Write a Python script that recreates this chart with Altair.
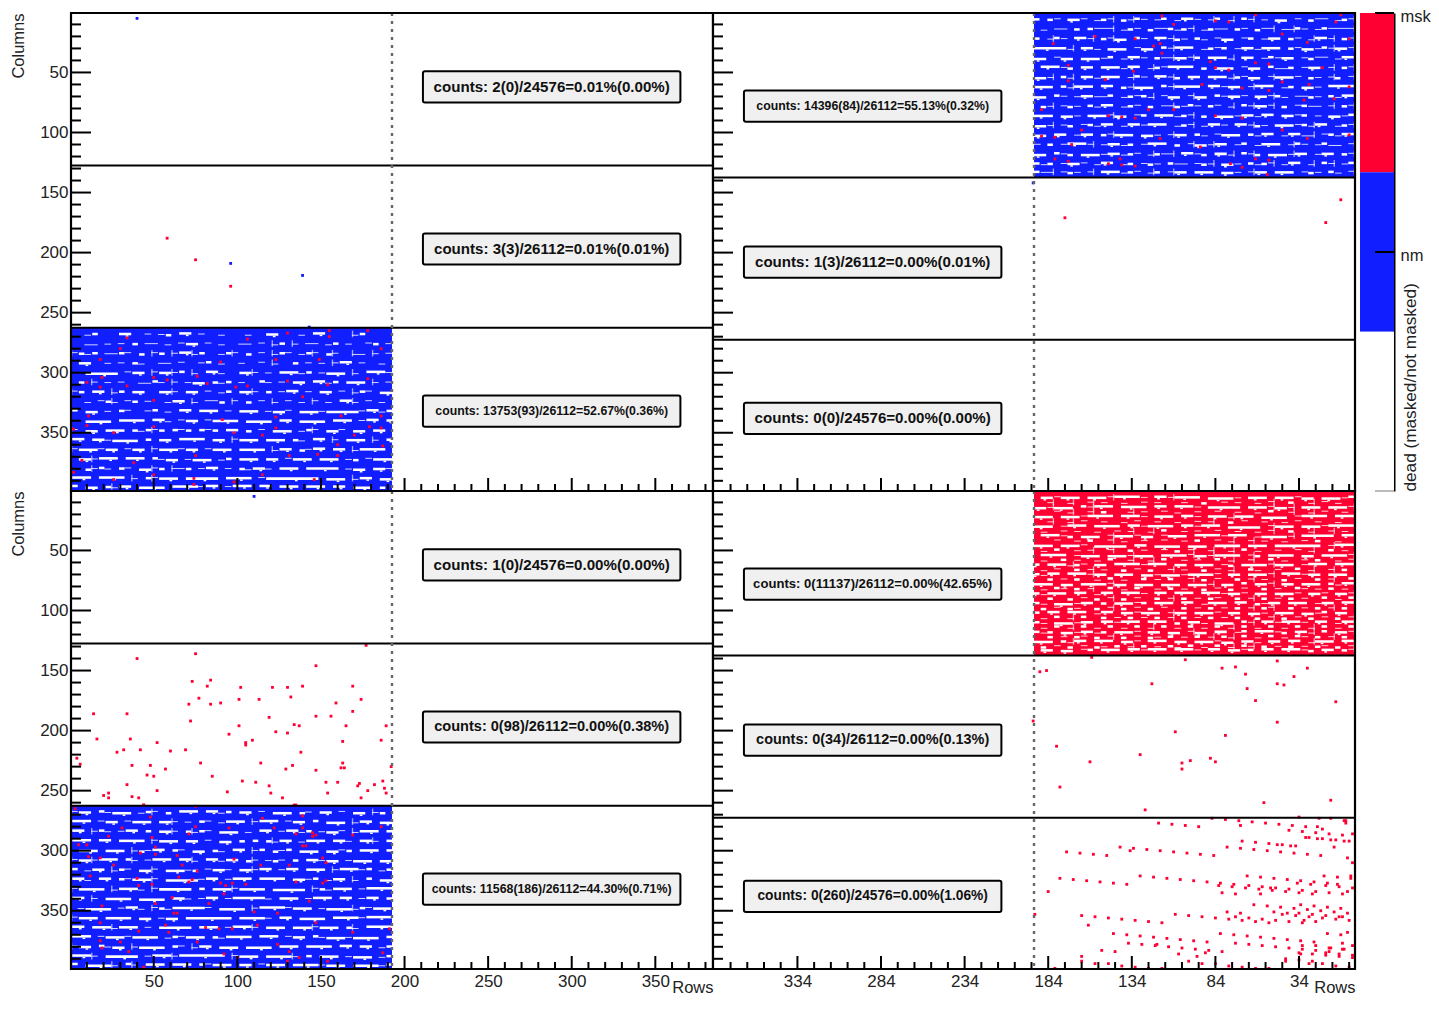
import altair as alt
import pandas as pd

RED = "#ff0033"
BLUE = "#111eff"
FONT = "Liberation Sans"

X_MAJOR_LEFT = [50, 100, 150, 200, 250, 300, 350]
X_MAJOR_RIGHT = [334, 284, 234, 184, 134, 84, 34]
X_MINOR_LEFT = [v for v in range(10, 390, 10) if v not in X_MAJOR_LEFT]
X_MINOR_RIGHT = [v for v in range(4, 384, 10) if v not in X_MAJOR_RIGHT]
Y_MAJOR = [50, 100, 150, 200, 250, 300, 350]
Y_MINOR = [v for v in range(10, 400, 10) if v not in Y_MAJOR]

LINES_LEFT = [127.5, 262.5]
LINES_RIGHT = [137.5, 272.5]
DIVIDER = [192.5]

# (label, centre row, font size)
LABELS_TL = [("counts: 2(0)/24576=0.01%(0.00%)", 62, 15.1),
             ("counts: 3(3)/26112=0.01%(0.01%)", 197, 15.1),
             ("counts: 13753(93)/26112=52.67%(0.36%)", 332, 12.3)]
LABELS_TR = [("counts: 14396(84)/26112=55.13%(0.32%)", 78, 12.3),
             ("counts: 1(3)/26112=0.00%(0.01%)", 208, 15.1),
             ("counts: 0(0)/24576=0.00%(0.00%)", 338, 15.1)]
LABELS_BL = [("counts: 1(0)/24576=0.00%(0.00%)", 62, 15.1),
             ("counts: 0(98)/26112=0.00%(0.38%)", 197, 14.55),
             ("counts: 11568(186)/26112=44.30%(0.71%)", 332, 12.35)]
LABELS_BR = [("counts: 0(11137)/26112=0.00%(42.65%)", 78, 13.1),
             ("counts: 0(34)/26112=0.00%(0.13%)", 208, 14.45),
             ("counts: 0(260)/24576=0.00%(1.06%)", 338, 13.75)]

# Rows of white holes in the dense blocks; one character spans four rows-axis units
GAPS_TL = [
 "..-#...##..-.-#.##.-..-...-..##...-.##....-#....",
 "..--.-.-.#.--.-.-##.-.-..--.-.-#.-.--.-#.-..-#.-",
 "-#-#.--#-.#.-#.-##-#..-#-.#.-.-#-.-#-.#-..--.-.-",
 ".##..-.-.#-..--.-..-#.-..-..-.-..#.-.-.-##.-..-.",
 "..#####.-##.-##-#.-.##-..##-.-.###-#.-###.-.###-#",
 ".#.-.-.-..--#-.-.-##.#-#.-..#-.-.##.##-#.###.-.-.",
 "-#.##.-#.##..##-.##.-.-#.##-.#.-##.-.##.-.-#-.##.",
 "..-.-#-.-#.-..-##.-.--#.-.#.-.-.-.-.-.-.##-.-.-.-",
 "#.##.-.#-..-#.-.##.###.-.###.-##-.###-#####-##-#-",
 "..####.####.##-.-##.-####.####.##.####.###.-##.##",
 "-.##.###.#-#-#.#-#.#-#.##.#.-.###.-#-.##-.##.##.#",
 "##.##-####.#.##.####.##.-###.###.#-.##.-.###.-.##",
 "-###-##.-##.-###-##.-###.####.-##.#-##.##.-####.#",
 ".##-###.###.#-##.-###.-#.###.##.-###.###.-#.-###-",
 "..#-#-.#-.##-#.--#.-##.-.#-##-.###.#####.-##.##-#",
 "###.####.-.#-###.#####.####.-########.###.-##.###",
 "#.##.#-##.####.####-##.-###.##.###.###.##.###.#.#",
]
GAPS_TR = [
 "-#-.--#.-.##.-.-#.-.#-.-##-.#-.-#-#.-#-.-##.-#.#",
 "----#-.-#--.--#.-#.--#-.-#-#--#.-#-.---#.#.--.-.",
 "-#.-##-.-#.##-.#-.##-.-#.-#-##.-#.##-#.-##.-#-.#",
 "-##-#-##-#.###-##-.#-#-.###-#.##-.###.-##.-#####",
 "##-.--#-.##-#-.##.-###.#-##--#.-##-.#-###.##-.##",
 "-#.-.##-.#--#.##-.###.#.####-#-.##-###.##.#-###.",
 "-.#-.-#.-###-.##-#-###.##.#-##.-#-.###-##.-#.-##",
 "####.-##.#-.###-.##-##.####-#.###-#.##.###-#.###",
 "##-#.-#--.-#-##.-##-#.##-.##-.-#-#-.#--##-.-#.##",
 "-#.-.--#-.#.-##-#.-.-#.-#-#--.#.-#-.##-#.-#-.-#.",
 "#-##.-.#-##.##-##-###.#.-#-###.#-.##-###.-##.###",
 "-#-.##-#-###.-#-##.-##-.-#-.###-##-.##-#-.#-.-##",
 "##-#-.--##-.##-#.###-.-#.##-.-##.###-#.##-.##.##",
 "-.--#-.-#-.###-.#-.##-##-.#.###-.#-##-.-###-.#.-",
 "-#.##-.##-###.#-#.-##.#-##.--#-.-#-##-###.#-#.##",
 "#-.-#.-.##-.-#-#.-##.-#-.--#.-#-.#-.##-.-##-.#-#",
 "-.-#.-#-.###.##-.-##.###.##-.#-.-#-###.-.-#-.--#",
]
GAPS_BL = [
 "-##.#-###.-#-.#.###.##-#.##.-.###.#-.##.-.##.-#.",
 "###.-##.-###.##-.-.#-.-###.-###.-##.#.###.-##.##",
 "##.-#-.-##.#.##-.#-#-.###.-.##.-##-#.-##-.-###.#",
 "###.##.####.-###.##.-.##.#.#.#-##.-###.##-.##-.#",
 ".###.###.-#-##.#-.##.#-.##.-#.#-#.###.##-#.###.#",
 "-##-###.#-.-###.##-.##-##.#-.-#-.#.##-##.-###.##",
 "#.-##.-#-.##-.###-#.-##-.##-##.-##.###.-###-#.-#",
 "##-.##.#-###-.#####-##.-###.####.##-#.-##.-.#.##",
 "-####.-###-.-#####.#.###-####.#####.-#-###.-####",
 "##.-.####.####.##-.-##.-#####-.###.-###.##.-##.#",
 ".-####.-##-.-#-#####-.####.-####-###.-####-#-###",
 "-###.####.##.-##.#######.####-.##.####.####-####",
 "##.###-###.-.#####.###.-###-.###.###-###.#-.####",
 "###.-###-####.-#-###.#-####.###.-##.#-###-####.#",
 "-##.#-##.-####.#-.-##.###.####.###.####.##.##.-#",
 "###-.#####.-###-#######.-###.####-.#.###.-###.-#",
 "#.####-.#-.###.###.#-###.##.-###.####-###.####-#",
]
GAPS_BR = [
 "#-###.##-###.###.-####.####-##.-####-###.###-##.#",
 "-###.###.-##-###.#####.-###.##.####.###-#.###-###",
 "###.####-.####.###-###.-##.###.-###.####-###.####",
 "####-###.###-.#####.###-##.####-##.####.###-.####",
 "##.#####.-####-.###-####.###-.##-###-.###.#-###.#",
 "###-.#######.###.####.###.####.##.#####.-###.###",
 "-####.##.####.#-.####-##-####.###-###.###-.####.#",
 "###.###-.###-####.#-.###.##.###-####.##.-#-###.##",
 ".###.##-###.-###.##.-####-###-##.###.##-###.##-##",
 "##-#.###.##.-##.#.##.-###.###.###.##-####.##.###",
 "-##.-##.-###.##.-##-###.###.##.-###.##-.##.###-##",
 "##.##-.###.##-#.##.###-.##.###.#-###.#.##-###.-#",
 ".##.#-##.###.-##.##.-###.##-.###-##.##-.###.##.#",
 "##-.##.-###-##.-#.###.-##.#.###.###-##.##-###.-#",
 "-##.#.-##.#-###.#-.##.##-.##.##.-###.#-##-##.#-#",
 "##.###-.##.##.-##.##-###.##.###.-##.###.##-#.###",
 "-#.##.#-###.##.#-##.##.-###.###-##.###.#-.##.##.",
]
# Extra pinholes between the main hole rows of the red block
GAPS_BR_EXTRA = [
 "..-.-.-..#..-.-..-.-..#..-...-.-..-..-.-..-..-.",
 ".-..-.-..-..#.-..-..-..-..-.-..-.-...#.-..-.-..",
 "..-..-..-.-..-..-.#..-.-..-..-..-.-..-..-.-..-.",
 ".-.-..-..#..-.-..-..-..-.-..#.-..-.-..-..-.-..-",
 "..-..#.-..-..-.-..-.-..#.-..-..-..-.-..#.-..-..",
 ".-.#..-.-..-..-.#.-..-..-.#.-..-.#..-..-.-..#.-",
 "-.-..#.-..-.#..-..-.#..-.-..#.-..-..#.-..-.#..-",
 ".#.-..-.#..-..-#..-.-.#..-.-..#.-.#..-.-.#..-.-",
 "#..-.#..-.#..-.-.#..-.#.-..#.-.#..-.#.-..#.-.#.",
 ".-.#.-.-#..-.#..-.#.-.#..-.#.-..#.-.#..-.#.-#.-",
 "#.-.#..-.#.-.#.-.#..-#.-.#.-.#..-.#.-.#.-.#..#.",
 ".#.-.#.-.#..-#.-.#.-.#.-.#..-.#.-.#.-.#..-#.-.#",
 "-.#.-.#.-.#.-.#..#.-.#.-.#.-.#.-.#.-.#..#.-.#.-",
 "#.-.#.-.#.-.#.-.#.-.#.-.#.-.#.-.#.-.#.-.#.-.#.-",
 ".#.-.#.-#.-.#.-.#.-#.-.#.-.#.-#.-.#.-.#.-#.-.#.",
 "-.#.-#.-.#.-.#.-#.-.#.-.#.-#.-.#.-.#.-#.-.#.-.#",
]
HOLE_ROWS_LOW = [268, 276, 284, 292, 300, 308, 316, 324, 332, 340, 348, 356, 364, 372, 380, 388, 395]
HOLE_ROWS_TOP = [6, 14, 22, 30, 38, 46, 54, 62, 70, 78, 86, 94, 102, 110, 118, 126, 133]
HOLE_ROWS_EXTRA = [10, 18, 26, 34, 42, 50, 58, 66, 74, 82, 90, 98, 106, 114, 122, 130]

# (rows-axis value, columns-axis value)
BLUE_TL = [(40, 5), (143, 262)]
RED_TL_MID = [(58, 188), (75, 206), (96, 228)]
BLUE_TL_MID = [(96, 209), (139, 219)]
RED_TL_LOW = [(34,271),(106,272),(130,267),(155,265),(155,270),(178,265),(30,280),(186,280),(18,289),(90,291),
 (123,289),(149,289),(76,303),(19,304),(50,304),(58,306),(82,309),(130,307),(178,305),(154,310),(10,308),(18,312),
 (34,311),(99,312),(106,311),(139,320),(50,323),(11,336),(91,339),(123,337),(162,336),(186,336),(10,344),(50,345),
 (26,350),(123,346),(179,345),(186,346),(2,347),(98,350),(115,352),(170,352),(160,360),(187,361),(75,369),(131,369),
 (148,368),(160,369),(7,373),(38,375),(2,383),(26,389),(50,385),(74,388),(115,385),(146,389),(98,391),(74,393)]
RED_TR_TOP = [(116,3),(60,2),(9,2),(84,7),(76,8),(109,10),(12,8),(156,20),(132,22),(44,18),(4,22),(29,25),(181,26),
 (117,26),(121,28),(116,34),(87,41),(172,44),(84,46),(20,46),(76,48),(133,49),(60,42),(52,43),(172,57),(150,56),
 (44,58),(92,60),(68,63),(52,65),(4,62),(28,60),(31,73),(13,72),(188,81),(124,81),(109,81),(148,86),(140,87),(84,86),
 (68,88),(132,88),(164,98),(44,98),(188,103),(117,105),(180,104),(29,105),(4,102),(170,110),(93,112),(60,122),(52,123),
 (172,124),(148,126),(140,127),(132,128),(75,126),(68,129),(141,122),(180,122),(53,135)]
RED_TR_MID = [(174, 171), (18, 175), (9, 156)]
BLUE_TR_MID = [(193, 142)]
BLUE_BL = [(110, 5)]
RED_BL_MID = [(177,129),(75,136),(40,140),(147,146),(84,158),(73,159),(82,163),(102,164),(121,164),(130,164),(139,163),
 (169,163),(132,172),(77,173),(101,174),(113,174),(174,174),(90,177),(84,178),(71,178),(159,177),(169,184),(14,186),
 (34,186),(147,188),(156,188),(119,189),(72,192),(134,195),(137,196),(101,196),(165,196),(189,196),(123,201),(130,202),
 (95,203),(16,207),(36,207),(109,208),(186,208),(163,209),(105,210),(52,210),(105,212),(32,216),(42,216),(60,217),
 (69,216),(28,218),(138,218),(4,223),(78,227),(114,227),(163,227),(6,228),(37,229),(48,229),(133,229),(192,230),
 (162,231),(164,231),(57,232),(129,232),(147,233),(46,237),(50,238),(85,238),(103,242),(111,243),(153,243),(160,243),
 (187,242),(173,244),(34,245),(119,246),(172,246),(182,245),(188,248),(52,250),(94,251),(178,250),(23,252),(120,252),
 (154,252),(189,252),(20,254),(37,255),(23,256),(41,256),(127,256),(174,256),(44,262),(135,262)]
RED_BL_LOW = [(3,265),(44,262),(75,263),(134,262),(115,273),(48,272),(139,271),(31,281),(75,280),(95,281),(139,281),
 (186,280),(23,288),(49,289),(71,286),(122,281),(135,286),(145,285),(145,288),(147,287),(169,287),(139,296),(141,296),
 (51,297),(42,302),(5,295),(10,295),(11,305),(18,306),(51,303),(64,304),(98,307),(151,306),(153,310),(26,312),(67,312),
 (76,317),(114,312),(131,312),(40,323),(73,324),(65,322),(12,321),(71,326),(135,326),(151,327),(153,325),(90,327),
 (97,327),(105,328),(93,329),(41,329),(49,328),(92,336),(61,339),(143,342),(51,344),(110,351),(124,352),(62,352),
 (64,352),(83,344),(19,346),(112,362),(97,365),(89,365),(81,364),(57,362),(18,360),(147,360),(191,365),(41,367),
 (59,368),(169,368),(30,376),(76,376),(18,375),(19,381),(35,384),(124,378),(187,385),(131,384),(100,389),(92,386),
 (137,389),(44,397),(154,392),(130,392)]
RED_BR_MID = [(158,139),(102,141),(47,142),(185,150),(189,151),(80,148),(72,147),(29,148),(66,153),(37,155),(122,161),
 (47,161),(43,162),(65,165),(60,175),(12,176),(193,192),(47,193),(108,201),(78,204),(179,213),(129,220),(87,223),
 (99,225),(159,226),(104,227),(84,226),(104,232),(177,247),(55,260),(15,258),(126,266)]
RED_BR_LOW = [(86,273),(78,274),(70,275),(34,272),(22,273),(15,273),(6,275),(7,275),(6,277),(118,277),(110,278),(102,279),
 (94,280),(69,279),(62,276),(54,277),(46,278),(38,279),(40,283),(30,280),(32,284),(23,280),(24,285),(20,282),(16,286),
 (2,286),(8,287),(30,289),(28,289),(23,290),(20,290),(15,291),(12,291),(7,292),(4,292),(68,292),(60,293),(52,294),
 (47,295),(44,295),(39,296),(36,296),(13,297),(77,297),(69,298),(61,299),(53,300),(45,301),(37,302),(29,303),(21,304),
 (5,306),(2,310),(141,297),(133,298),(135,300),(125,299),(117,300),(109,301),(101,302),(93,303),(85,304),(173,301),
 (165,302),(157,303),(149,304),(129,321),(121,322),(113,323),(105,324),(97,325),(89,326),(177,323),(169,324),(161,325),
 (153,326),(145,327),(137,328),(81,327),(82,329),(73,328),(74,330),(65,321),(57,322),(49,323),(41,324),(33,325),(35,327),
 (19,321),(11,322),(3,321),(3,323),(25,326),(27,328),(17,327),(18,329),(11,328),(10,330),(2,331),(64,329),(66,331),
 (56,330),(58,332),(48,331),(51,331),(50,333),(40,332),(42,334),(32,333),(34,335),(24,334),(26,336),(16,335),(8,336),
 (5,334),(57,336),(80,335),(72,336),(184,334),(61,345),(53,346),(45,347),(37,348),(33,345),(25,346),(17,347),(9,348),
 (77,351),(69,352),(49,351),(41,352),(44,353),(36,354),(29,349),(34,352),(21,350),(13,351),(5,352),(26,353),(18,354),
 (10,355),(8,355),(192,353),(164,354),(156,355),(148,356),(140,357),(132,358),(124,359),(116,360),(108,353),(100,354),
 (92,355),(84,356),(76,357),(72,355),(68,358),(64,356),(60,359),(56,357),(52,360),(48,358),(40,359),(31,358),(32,360),
 (28,355),(24,359),(20,356),(12,357),(4,358),(160,362),(145,369),(137,370),(129,371),(121,372),(113,373),(105,374),
 (97,375),(89,376),(81,369),(73,370),(65,371),(57,372),(49,373),(41,374),(33,375),(25,376),(17,369),(9,370),(5,368),
 (136,377),(128,378),(120,379),(119,378),(112,380),(104,381),(96,382),(88,383),(80,384),(72,377),(64,378),(56,379),
 (48,380),(40,381),(32,379),(32,382),(24,379),(24,383),(16,381),(15,381),(8,377),(8,382),(7,382),(2,379),(152,383),
 (144,384),(106,386),(95,388),(90,385),(34,385),(33,386),(26,386),(18,385),(18,387),(16,384),(10,386),(10,388),(2,387),
 (2,389),(42,390),(42,392),(34,391),(164,388),(164,392),(156,394),(148,394),(140,396),(132,397),(124,398),(100,392),
 (92,394),(84,394),(76,396),(68,397),(60,398),(52,398),(28,394),(26,392),(20,394),(12,396),(4,397),(116,398),(180,398)]

W, H = 642, 478
COL_MIN, COL_MAX, ROW_MIN, ROW_MAX = 0.5, 384.5, 0.5, 398.5
BLOCK_END = 192.5
WOBBLE = [-0.7, 0.2, 0.8, -0.2]


def hole_rects(masks, rows, block_top):
    """Turn the typed masks into white rectangles, stepping runs up and down a little,
    with thin vertical spurs at the thin runs, as the dotted hit pattern shows."""
    out = []
    for mask, row in zip(masks, rows):
        i = 0
        while i < len(mask):
            j = i
            while j < len(mask) and mask[j] == mask[i]:
                j += 1
            if mask[i] in "#-":
                solid = mask[i] == "#"
                half = 1.05 if solid else 0.42
                off = WOBBLE[i % 4]
                x0 = 0.5 + 4 * i + (0.7 if solid else 0.0)
                x1 = min(0.5 + 4 * j, BLOCK_END)
                out.append({"x": x0, "x2": x1, "y": row + off - half, "y2": row + off + half,
                            "o": 1.0 if solid else 0.8})
                if not solid and i % 3 == 0:
                    out.append({"x": x0, "x2": x0 + 0.8, "y": max(row - 3, block_top), "y2": row + 2.5, "o": 0.6})
                if solid and j - i > 1:
                    mid = x0 + (x1 - x0) * 0.55
                    out.append({"x": mid, "x2": mid + 1.6, "y": row + off + half, "y2": row + off + half + 1.2, "o": 1.0})
            i = j
    return pd.DataFrame(out)


def pts(pairs):
    return pd.DataFrame(pairs, columns=["x", "y"])


def panel(right, bottom, lines, labels, block=None, block_color=BLUE, holes=None,
          reds=(), blues=(), show_y=True):
    xs = alt.Scale(domain=[COL_MIN, COL_MAX], nice=False, zero=False, reverse=right)
    ys = alt.Scale(domain=[ROW_MIN, ROW_MAX], nice=False, zero=False, reverse=True)
    x_axis = None
    if bottom:
        x_axis = alt.Axis(values=X_MAJOR_RIGHT if right else X_MAJOR_LEFT, grid=False, domain=False, ticks=False,
                          labelFont=FONT, labelFontSize=17, labelColor="#222", labelPadding=4,
                          labelOverlap=False, labelFlush=False, format="d",
                          title="Rows", titleFont=FONT, titleFontSize=16.5, titleFontWeight="normal",
                          titleColor="#222", titleX=W, titleY=23, titleAlign="right",
                          titleBaseline="alphabetic")
    y_axis = None
    if show_y:
        y_axis = alt.Axis(values=Y_MAJOR, grid=False, domain=False, ticks=False, labelFont=FONT,
                          labelFontSize=17, labelColor="#222", labelPadding=3, labelOverlap=False,
                          labelFlush=False, format="d", title="Columns", titleFont=FONT,
                          titleFontSize=16.5, titleFontWeight="normal", titleColor="#222",
                          titleX=-53, titleY=0, titleAlign="right", titleBaseline="middle", titleAngle=270)
    X = alt.X("x:Q", scale=xs, axis=x_axis)
    Y = alt.Y("y:Q", scale=ys, axis=y_axis)
    layers = []

    frame = pd.DataFrame([{"x": COL_MIN, "x2": COL_MAX, "y": ROW_MIN, "y2": ROW_MAX}])
    layers.append(alt.Chart(frame).mark_rect(fill="white", stroke=None).encode(x=X, x2="x2:Q", y=Y, y2="y2:Q"))

    if block is not None:
        df = pd.DataFrame([{"x": COL_MIN, "x2": BLOCK_END, "y": block[0], "y2": block[1]}])
        layers.append(alt.Chart(df).mark_rect(fill=block_color).encode(x=X, x2="x2:Q", y=Y, y2="y2:Q"))
    if holes is not None:
        layers.append(alt.Chart(holes).mark_rect(fill="white").encode(
            x=X, x2="x2:Q", y=Y, y2="y2:Q", opacity=alt.Opacity("o:Q", scale=None)))
    if len(reds):
        layers.append(alt.Chart(pts(reds)).mark_square(size=8, color=RED, opacity=1).encode(x=X, y=Y))
    if len(blues):
        layers.append(alt.Chart(pts(blues)).mark_square(size=8, color=BLUE, opacity=1).encode(x=X, y=Y))

    layers.append(alt.Chart(pd.DataFrame({"y": lines})).mark_rule(color="black", strokeWidth=2).encode(y=Y))
    layers.append(alt.Chart(pd.DataFrame({"x": DIVIDER})).mark_rule(color="#666666", strokeWidth=2.4, strokeDash=[3, 5]).encode(x=X))

    for vals, length in ((Y_MAJOR, 20), (Y_MINOR, 10)):
        layers.append(alt.Chart(pd.DataFrame({"y": vals})).mark_rule(color="black", strokeWidth=2).encode(
            y=Y, x=alt.value(0), x2=alt.value(length)))
    major = X_MAJOR_RIGHT if right else X_MAJOR_LEFT
    minor = X_MINOR_RIGHT if right else X_MINOR_LEFT
    for vals, length in ((major, 13), (minor, 7)):
        layers.append(alt.Chart(pd.DataFrame({"x": vals})).mark_rule(color="black", strokeWidth=2).encode(
            x=X, y=alt.value(H), y2=alt.value(H - length)))

    cols = (212, 366) if right else (211, 365)
    boxes = pd.DataFrame([{"x": cols[0], "x2": cols[1], "y": r - 13, "y2": r + 13} for t, r, f in labels])
    layers.append(alt.Chart(boxes).mark_rect(fill="#f0f0f0", stroke="black", strokeWidth=2, cornerRadius=2).encode(
        x=X, x2="x2:Q", y=Y, y2="y2:Q"))
    for t, r, f in labels:
        d = pd.DataFrame([{"x": sum(cols) / 2, "y": r, "t": t}])
        layers.append(alt.Chart(d).mark_text(font=FONT, fontWeight="bold", fontSize=f, color="#111").encode(
            x=X, y=Y, text="t:N"))
    layers.append(alt.Chart(frame).mark_rect(fill=None, stroke="black", strokeWidth=2.2).encode(
        x=X, x2="x2:Q", y=Y, y2="y2:Q"))
    return alt.layer(*layers).properties(width=W, height=H)


tl = panel(False, False, LINES_LEFT, LABELS_TL, block=(262.5, ROW_MAX),
           holes=hole_rects(GAPS_TL, HOLE_ROWS_LOW, 262.5), reds=RED_TL_MID + RED_TL_LOW,
           blues=BLUE_TL + BLUE_TL_MID)
tr = panel(True, False, LINES_RIGHT, LABELS_TR, block=(ROW_MIN, 137.5),
           holes=hole_rects(GAPS_TR, HOLE_ROWS_TOP, ROW_MIN), reds=RED_TR_TOP + RED_TR_MID,
           blues=BLUE_TR_MID, show_y=False)
bl = panel(False, True, LINES_LEFT, LABELS_BL, block=(262.5, ROW_MAX),
           holes=hole_rects(GAPS_BL, HOLE_ROWS_LOW, 262.5), reds=RED_BL_MID + RED_BL_LOW, blues=BLUE_BL)
br_holes = pd.concat([hole_rects(GAPS_BR, HOLE_ROWS_TOP, ROW_MIN), hole_rects(GAPS_BR_EXTRA, HOLE_ROWS_EXTRA, ROW_MIN)])
br = panel(True, True, LINES_RIGHT, LABELS_BR, block=(ROW_MIN, 137.5), block_color=RED,
           holes=br_holes, reds=RED_BR_MID + RED_BR_LOW, show_y=False)

# Palette: the x domain starts below zero to leave the small gap beside the plots
PALETTE = pd.DataFrame([{"x": 0, "x2": 1, "y": 2, "y2": 3, "c": RED},
                        {"x": 0, "x2": 1, "y": 1, "y2": 2, "c": BLUE},
                        {"x": 0, "x2": 1, "y": 0, "y2": 1, "c": "white"}])
PAL_TICKS = [1.5, 3]
pal_y = alt.Scale(domain=[0, 3], nice=False, zero=False)
pal_x = alt.Scale(domain=[-0.147, 1], nice=False, zero=False)
pal_axis = alt.Axis(
    orient="right", values=PAL_TICKS, grid=False, ticks=False, domain=True, domainColor="black",
    domainWidth=2, labelExpr="datum.value == 3 ? 'msk' : 'nm'", labelFont=FONT, labelFontSize=16.5,
    labelColor="#222", labelPadding=6, labelOverlap=False, labelFlush=False, labelLimit=60, labelOffset=3.5,
    title="dead (masked/not masked)", titleFont=FONT, titleFontSize=17.2, titleFontWeight="normal",
    titleColor="#222", titleX=16, titleY=H, titleAngle=270, titleAlign="left", titleBaseline="middle")
pal_rects = alt.Chart(PALETTE).mark_rect().encode(
    x=alt.X("x:Q", scale=pal_x, axis=None), x2="x2:Q",
    y=alt.Y("y:Q", scale=pal_y, axis=pal_axis),
    y2="y2:Q", color=alt.Color("c:N", scale=None))
pal_ticks = alt.Chart(pd.DataFrame({"y": PAL_TICKS})).mark_rule(color="black", strokeWidth=2).encode(
    y=alt.Y("y:Q", scale=pal_y, axis=pal_axis), x=alt.value(20), x2=alt.value(39))
pal_base = alt.Chart(pd.DataFrame({"y": [0]})).mark_rule(color="#bbbbbb", strokeWidth=2).encode(
    y=alt.Y("y:Q", scale=pal_y, axis=pal_axis), x=alt.value(20), x2=alt.value(39))
palette = alt.layer(pal_rects, pal_ticks, pal_base).properties(width=39, height=H)

chart = alt.concat(tl, tr, palette, bl, br, columns=3, spacing=0, bounds="flush").configure_view(stroke=None).properties(
    autosize=alt.AutoSizeParams(type="none"),
    padding={"left": 63, "top": 5, "right": 1360, "bottom": 985}, background="white")
chart.save("out.html", embed_options={"renderer": "svg", "actions": False})
